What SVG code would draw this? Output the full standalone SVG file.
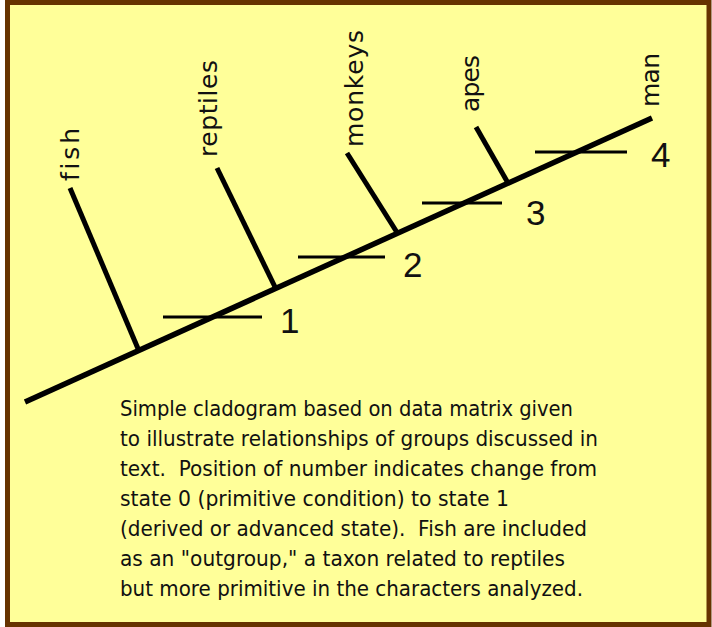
<svg xmlns="http://www.w3.org/2000/svg" width="712" height="627" viewBox="0 0 712 627">
<style>
.bg{fill:#FFFF99;stroke:#663300;stroke-width:5}
.stem{stroke:#000;stroke-width:5.5;stroke-linecap:butt;fill:none}
.br{stroke:#000;stroke-width:5;stroke-linecap:butt;fill:none}
.tick{stroke:#000;stroke-width:3;fill:none}
.lab{font-family:"DejaVu Sans","Liberation Sans",sans-serif;font-size:25px;fill:#111;font-variant-ligatures:none}
.num{font-family:"Liberation Sans",Arial,sans-serif;font-size:35px;fill:#111}
.cap{font-family:"DejaVu Sans","Noto Sans",sans-serif;font-size:20.5px;fill:#111}
</style>
<rect x="0" y="0" width="712" height="627" fill="#fff"/>
<rect class="bg" x="7.5" y="2.5" width="701.5" height="622"/>
<g id="connectors">
<line class="stem" x1="25" y1="402" x2="652" y2="118"/>
<line class="br" x1="70" y1="188" x2="139" y2="351"/>
<line class="br" x1="217" y1="168" x2="276" y2="289"/>
<line class="br" x1="347" y1="153" x2="398" y2="234"/>
<line class="br" x1="476" y1="127" x2="508" y2="183"/>
<line class="tick" x1="163" y1="317" x2="262" y2="317"/>
<line class="tick" x1="298" y1="257" x2="385" y2="257"/>
<line class="tick" x1="422" y1="203" x2="502" y2="203"/>
<line class="tick" x1="535" y1="152" x2="627" y2="152"/>
</g>
<g id="fish"><text class="lab" transform="translate(79,181) rotate(-90)" textLength="53" lengthAdjust="spacing">fish</text></g>
<g id="reptiles"><text class="lab" transform="translate(217,157) rotate(-90)" textLength="97" lengthAdjust="spacing">reptiles</text></g>
<g id="monkeys"><text class="lab" transform="translate(363,147) rotate(-90)" textLength="117" lengthAdjust="spacing">monkeys</text></g>
<g id="apes"><text class="lab" transform="translate(479,112) rotate(-90)" textLength="57" lengthAdjust="spacing">apes</text></g>
<g id="man"><text class="lab" transform="translate(659,107) rotate(-90)" textLength="54" lengthAdjust="spacing">man</text></g>
<g id="n1"><text class="num" x="280" y="333">1</text></g>
<g id="n2"><text class="num" x="403" y="277">2</text></g>
<g id="n3"><text class="num" x="526" y="225">3</text></g>
<g id="n4"><text class="num" x="651" y="167">4</text></g>
<g id="caption">
<text class="cap" x="120" y="416" textLength="453" lengthAdjust="spacingAndGlyphs">Simple cladogram based on data matrix given</text>
<text class="cap" x="120" y="446" textLength="478" lengthAdjust="spacingAndGlyphs">to illustrate relationships of groups discussed in</text>
<text class="cap" x="120" y="476" textLength="477" lengthAdjust="spacingAndGlyphs" xml:space="preserve">text.  Position of number indicates change from</text>
<text class="cap" x="120" y="506" textLength="389" lengthAdjust="spacingAndGlyphs">state 0 (primitive condition) to state 1</text>
<text class="cap" x="120" y="536" textLength="467" lengthAdjust="spacingAndGlyphs" xml:space="preserve">(derived or advanced state).  Fish are included</text>
<text class="cap" x="120" y="566" textLength="445" lengthAdjust="spacingAndGlyphs">as an "outgroup," a taxon related to reptiles</text>
<text class="cap" x="120" y="596" textLength="463" lengthAdjust="spacingAndGlyphs">but more primitive in the characters analyzed.</text>
</g>
</svg>
